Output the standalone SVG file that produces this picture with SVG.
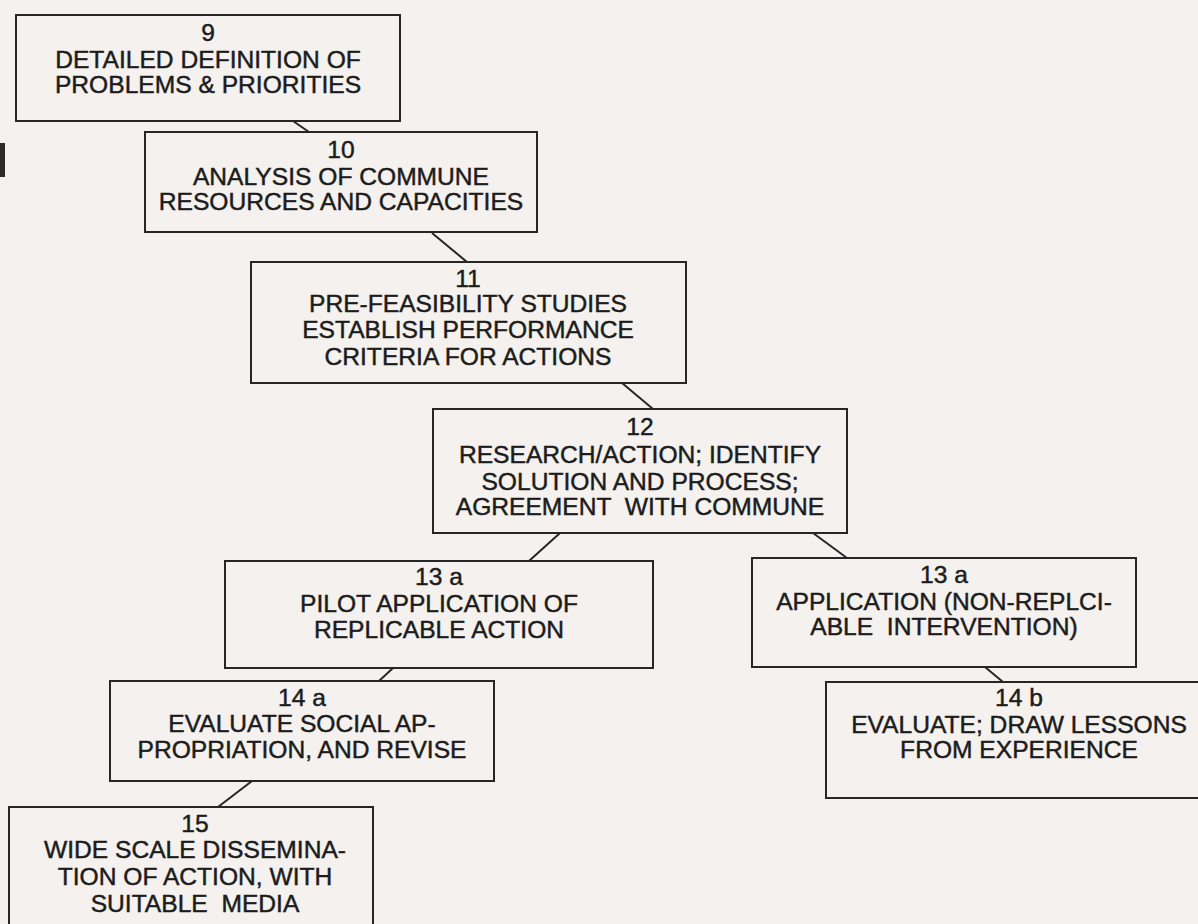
<svg xmlns="http://www.w3.org/2000/svg" width="1198" height="924" viewBox="0 0 1198 924">
<style>
.box{fill:none;stroke:#262626;stroke-width:2}
.con{stroke:#262626;stroke-width:2;fill:none}
text{font-family:"Liberation Sans",Arial,Helvetica,sans-serif;font-size:24.6px;fill:#1c1c1c;stroke:#1c1c1c;stroke-width:0.45;text-anchor:middle;white-space:pre}
</style>
<rect x="0" y="0" width="1198" height="924" fill="#f4f1ee"/>
<rect x="0" y="143" width="5" height="34" fill="#2a2a2a"/>
<g id="connectors">
<line class="con" x1="293" y1="121" x2="309" y2="132"/>
<line class="con" x1="432" y1="233" x2="467" y2="262"/>
<line class="con" x1="622" y1="383" x2="653" y2="409"/>
<line class="con" x1="560" y1="533" x2="529" y2="561"/>
<line class="con" x1="813" y1="533" x2="847" y2="558"/>
<line class="con" x1="393" y1="668" x2="379" y2="681"/>
<line class="con" x1="985" y1="667" x2="1003" y2="682"/>
<line class="con" x1="252" y1="781" x2="218" y2="807"/>
</g>
<g id="n9">
<rect class="box" x="16" y="15" width="384" height="106"/>
<text x="208" y="41">9</text>
<text x="208" y="68">DETAILED DEFINITION OF</text>
<text x="208" y="93">PROBLEMS &amp; PRIORITIES</text>
</g>
<g id="n10">
<rect class="box" x="145" y="132" width="392" height="100"/>
<text x="341" y="158">10</text>
<text x="341" y="185">ANALYSIS OF COMMUNE</text>
<text x="341" y="210">RESOURCES AND CAPACITIES</text>
</g>
<g id="n11">
<rect class="box" x="251" y="262" width="435" height="121"/>
<text x="468" y="287">11</text>
<text x="468" y="312">PRE-FEASIBILITY STUDIES</text>
<text x="468" y="338">ESTABLISH PERFORMANCE</text>
<text x="468" y="365">CRITERIA FOR ACTIONS</text>
</g>
<g id="n12">
<rect class="box" x="433" y="409" width="414" height="124"/>
<text x="640" y="435">12</text>
<text x="640" y="463">RESEARCH/ACTION; IDENTIFY</text>
<text x="640" y="490">SOLUTION AND PROCESS;</text>
<text x="640" y="515">AGREEMENT  WITH COMMUNE</text>
</g>
<g id="n13a-left">
<rect class="box" x="225" y="561" width="428" height="107"/>
<text x="439" y="585">13 a</text>
<text x="439" y="612">PILOT APPLICATION OF</text>
<text x="439" y="638">REPLICABLE ACTION</text>
</g>
<g id="n13a-right">
<rect class="box" x="752" y="558" width="384" height="109"/>
<text x="944" y="583">13 a</text>
<text x="944" y="610">APPLICATION (NON-REPLCI-</text>
<text x="944" y="635">ABLE  INTERVENTION)</text>
</g>
<g id="n14a">
<rect class="box" x="110" y="681" width="384" height="100"/>
<text x="302" y="706">14 a</text>
<text x="302" y="732">EVALUATE SOCIAL AP-</text>
<text x="302" y="758">PROPRIATION, AND REVISE</text>
</g>
<g id="n14b">
<rect class="box" x="826" y="682" width="390" height="116"/>
<text x="1019" y="706">14 b</text>
<text x="1019" y="733">EVALUATE; DRAW LESSONS</text>
<text x="1019" y="758">FROM EXPERIENCE</text>
</g>
<g id="n15">
<rect class="box" x="9" y="807" width="364" height="130"/>
<text x="195" y="832">15</text>
<text x="195" y="858">WIDE SCALE DISSEMINA-</text>
<text x="195" y="885">TION OF ACTION, WITH</text>
<text x="195" y="912">SUITABLE  MEDIA</text>
</g>
</svg>
